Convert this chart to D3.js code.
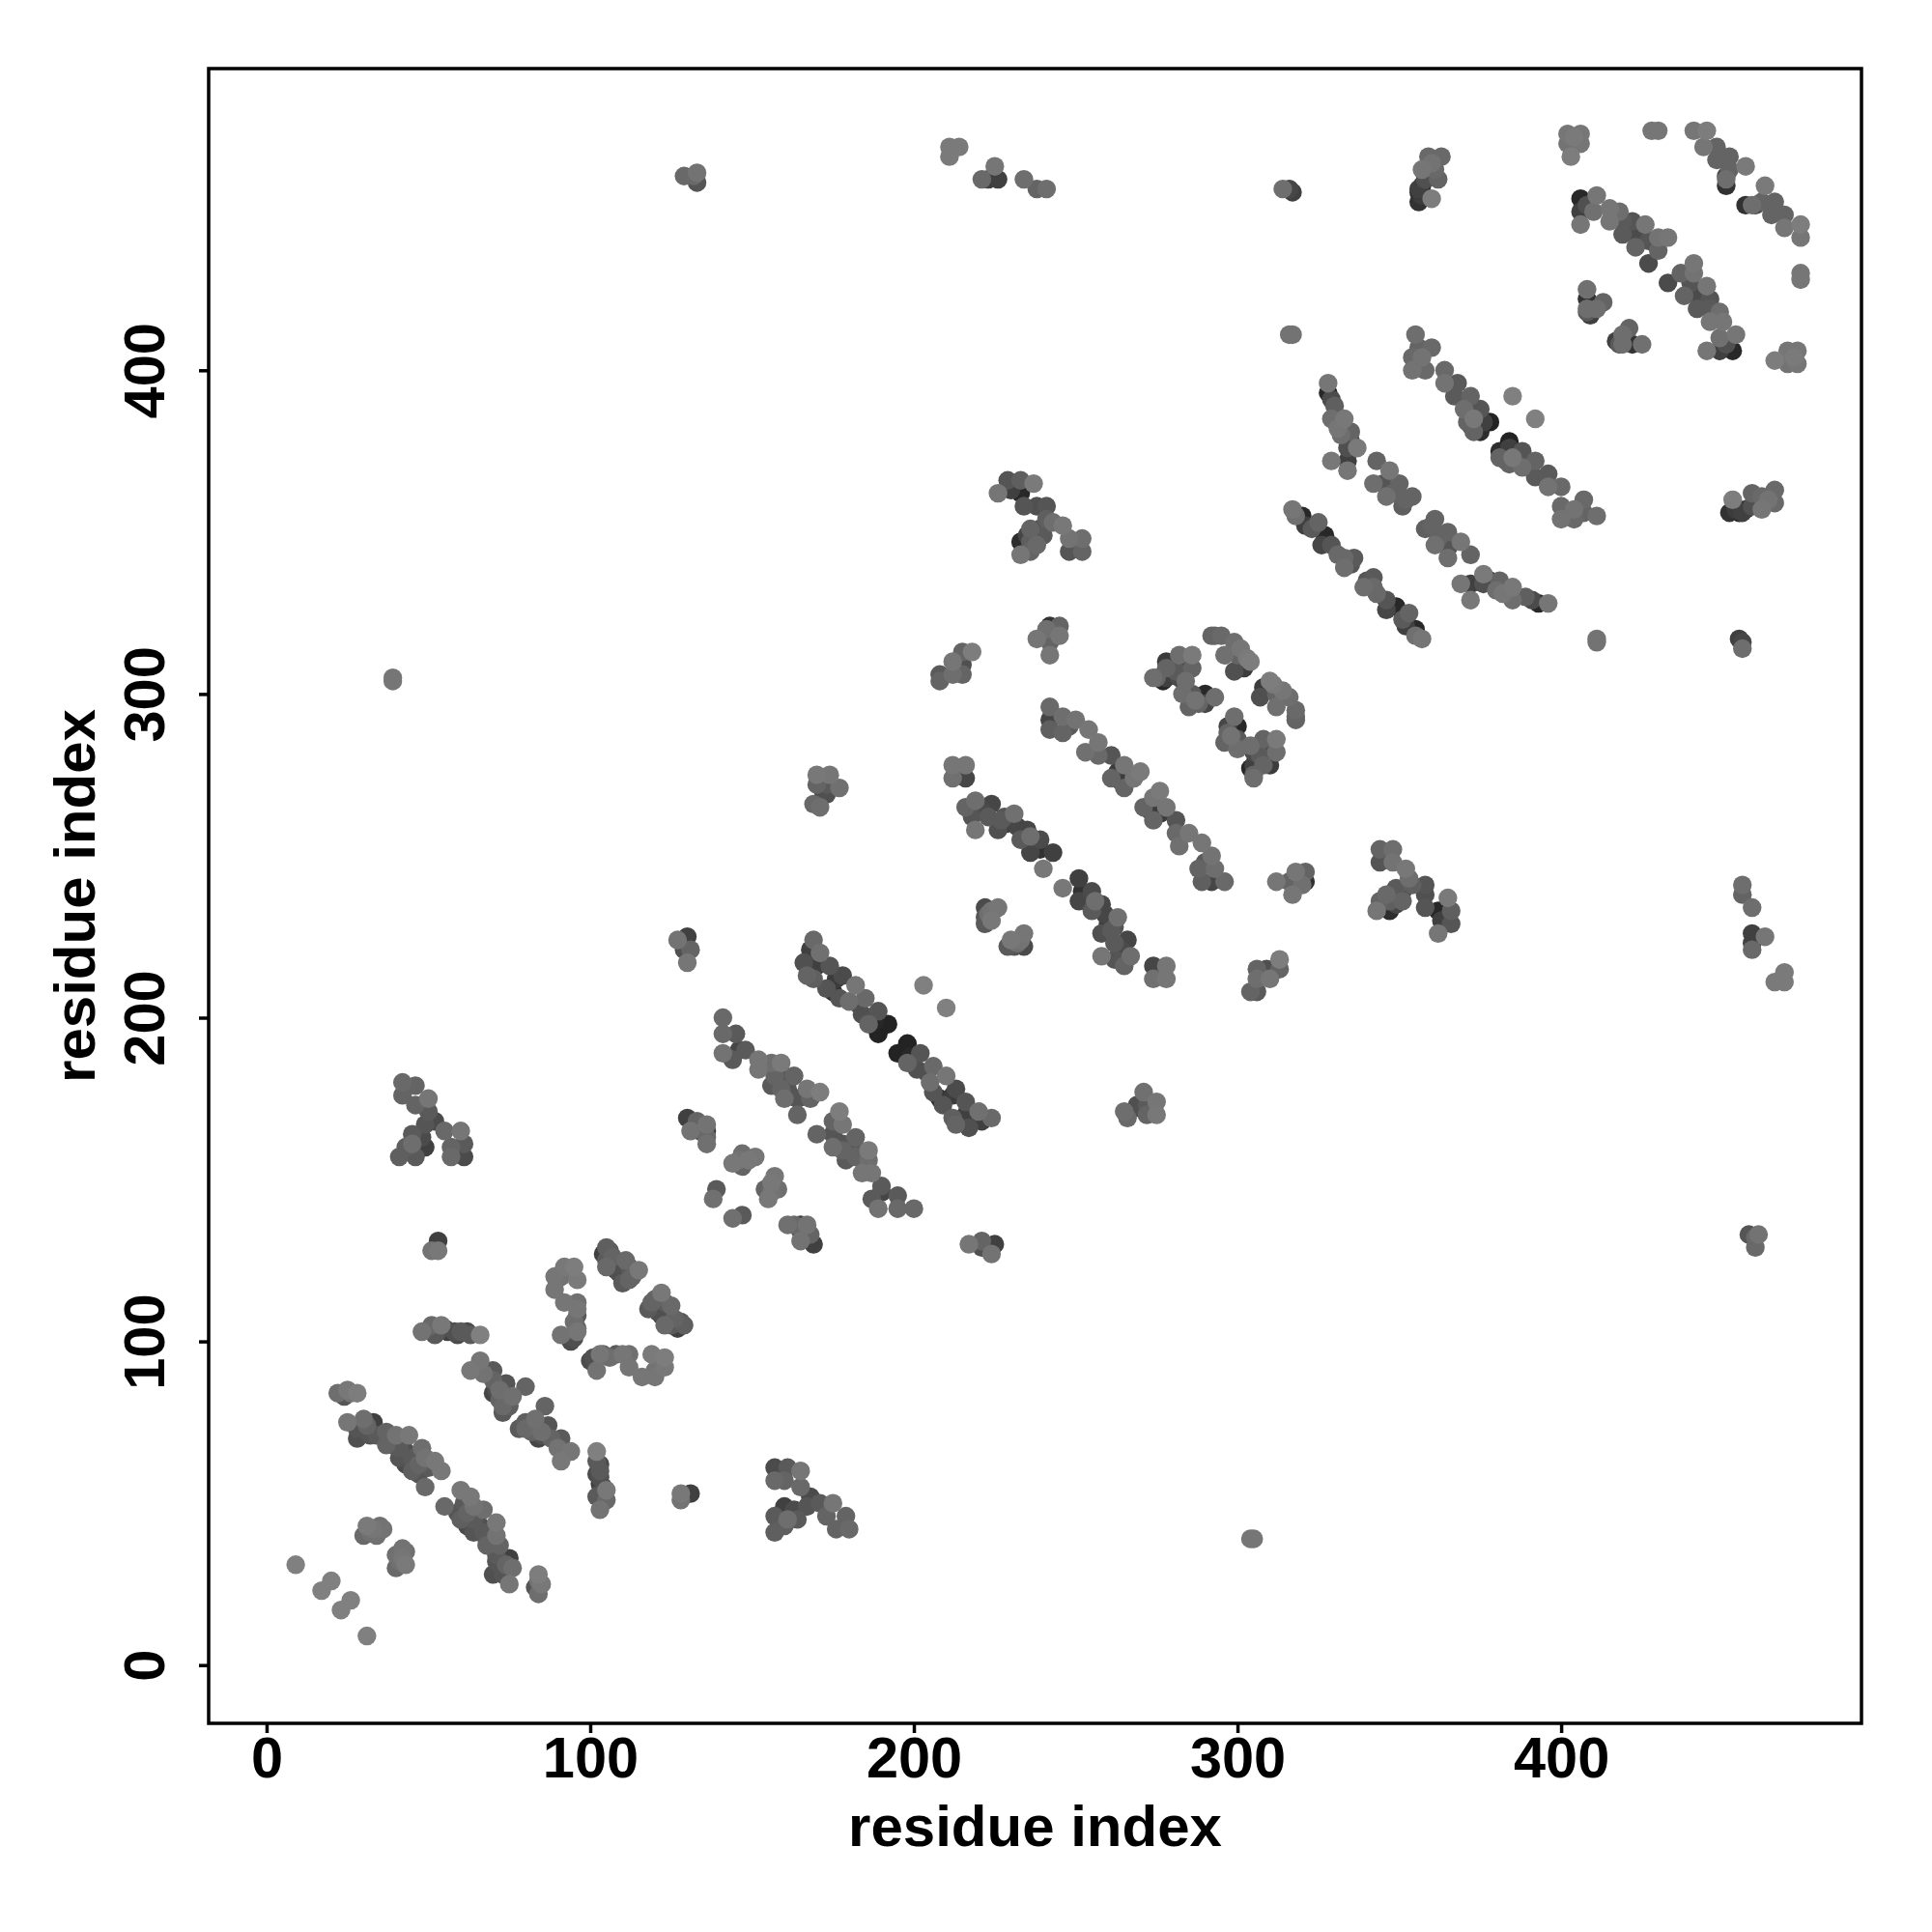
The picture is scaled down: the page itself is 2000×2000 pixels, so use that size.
<!DOCTYPE html>
<html><head><meta charset="utf-8">
<script src="https://cdn.jsdelivr.net/npm/d3@7"></script>
<style>html,body{margin:0;padding:0;background:#fff}svg{display:block}</style>
</head><body><div id="chart"></div>
<script>
// Contact list: [residue i, residue j, grey level]. A contact map is symmetric: each pair is shown at (i,j) and (j,i).
const hairpin1=[[9,31,128],[17,23,128],[20,26,128]];
const band25=[[25,75,118],[29,71,70],[28,73,85],[28,70,80],[32,71,85],[30,72,80],[30,76,110],[31,74,100],[33,75,64],[34,71,90],[37,72,100],[37,68,100],[39,68,75],[41,67,90],[40,71,115],[43,66,80],[41,64,85],[43,62,75],[44,71,120],[45,60,95],[45,64,90],[47,59,85],[46,63,80],[47,62,100],[50,61,90],[48,67,110],[49,64,115],[52,63,120],[54,60,120],[49,55,105]];
const band22=[[24,83,85],[22,84,110],[25,85,120],[26,84,115],[28,84,125]];
const band48=[[48,103,115],[51,105,105],[53,103,80],[54,105,120],[52,102,90],[55,104,70],[56,103,64],[58,103,80],[59,102,75],[60,103,90],[62,103,75],[63,102,90],[66,102,128]];
const band63=[[63,91,120],[66,94,118],[67,90,115],[70,91,90],[70,88,100],[71,85,80],[74,87,85],[70,84,70],[72,82,100],[73,80,105],[74,83,64],[76,83,112],[75,80,95],[80,86,100],[72,85,110],[73,78,90]];
const patch30=[[30,40,105],[32,41,112],[34,40,112],[31,43,122],[36,42,115],[33,42,118],[35,43,112]];
const patch51=[[51,128,115],[53,131,64],[53,128,120]];
const ring89=[[89,120,118],[89,116,118],[92,123,120],[91,120,115],[95,123,125],[96,119,122],[92,112,118],[96,112,112],[96,108,90],[96,104,100],[95,106,110],[96,110,118],[95,101,80],[94,100,75],[91,102,115],[96,103,118]];
const band104=[[105,129,95],[104,127,64],[105,125,90],[105,123,105],[106,128,90],[107,126,100],[108,122,64],[111,125,105],[109,121,80],[110,118,90],[112,123,90],[112,119,100],[113,120,100],[115,122,120]];
const patch138=[[138,144,112],[139,147,90]];
const patch144=[[146,155,64],[147,158,110],[151,157,118],[144,155,120],[147,154,100],[149,156,120],[146,156,115]];
const band141=[[141,200,105],[141,195,105],[145,195,90],[141,189,115],[144,187,90],[146,190,70],[148,190,90],[152,187,118],[152,184,118],[156,186,110],[159,186,122],[156,179,90],[157,182,100],[159,183,90],[163,182,100],[159,178,100],[160,175,110],[161,178,85],[164,175,85],[167,178,118],[168,175,100],[171,177,125],[164,170,100]];
const patch130=[[130,169,64],[131,165,115],[133,168,100],[136,167,115],[134,165,80],[136,163,105],[136,161,112],[136,165,60]];
const patch127=[[127,224,115],[130,225,64],[131,221,100],[130,217,118],[129,221,80]];
const patch222=[[222,234,75],[226,234,118],[224,230,120],[222,231,85],[224,233,115],[223,232,110],[222,229,90]];
const patch212=[[212,274,112],[212,278,118],[216,274,70],[216,278,118]];
const patch169=[[169,266,105],[171,265,110],[173,269,80],[177,271,112],[172,270,70],[170,272,100],[170,275,120],[174,275,118],[173,272,90]];
const band216=[[216,265,100],[219,267,110],[218,262,85],[221,264,75],[224,266,70],[219,258,118],[223,262,90],[228,262,85],[231,263,112],[226,258,80],[229,260,64],[227,261,90],[232,259,70],[235,258,70],[233,255,90],[236,256,110],[239,255,75],[236,251,70],[238,253,40],[239,252,50],[243,251,64],[240,246,120]];
const band242=[[242,296,105],[242,292,70],[246,293,110],[242,289,95],[250,292,115],[246,288,100],[254,289,118],[248,290,90],[253,282,112],[257,285,118],[257,281,105],[261,281,85],[265,278,118],[261,274,100],[263,276,60],[264,273,50],[270,276,122],[265,271,100],[268,274,118]];
const patch275=[[275,305,100],[274,305,110],[277,304,40],[278,308,100],[282,312,110],[286,312,122],[286,308,100],[282,305,75],[278,305,64],[280,306,50],[282,309,64],[278,310,60],[283,300,110],[286,300,90],[290,300,40],[293,299,110],[285,296,100],[290,297,70],[288,297,100],[287,298,115],[281,307,90],[284,304,110],[279,308,64]];
const patch292=[[292,318,100],[293,318,100],[295,318,105],[299,316,110],[296,312,112],[303,311,122],[302,308,60],[299,307,80],[304,310,125],[300,312,100],[301,314,118]];
const patch226=[[226,362,118],[229,366,85],[233,366,95],[237,365,122],[233,362,40],[230,363,64],[234,358,85],[238,358,80],[241,358,85],[241,354,95],[246,352,120],[243,353,110],[236,351,100],[239,351,75],[233,347,45],[236,347,95],[240,349,90],[233,343,118],[236,344,100],[252,348,110],[252,344,100],[248,348,115],[248,344,85],[235,349,70],[238,346,105]];
const patch208=[[218,313,125],[215,313,100],[212,310,118],[215,309,80],[215,306,100],[208,306,90],[208,304,100],[212,306,110]];
const patch238=[[245,321,100],[242,321,50],[241,320,112],[245,318,118],[238,317,118],[242,316,100],[242,312,118],[243,319,80]];
const band317=[[317,357,118],[318,355,112],[320,355,40],[321,352,64],[323,351,90],[325,353,100],[327,349,40],[326,346,70],[329,346,85],[331,343,105],[333,342,105],[336,342,90],[333,339,110],[335,340,85]];
const band342=[[343,372,100],[347,369,118],[342,365,110],[345,365,85],[350,365,100],[354,361,100],[346,361,112],[351,358,95],[348,362,100],[352,360,100]];
const band328=[[328,396,118],[328,393,40],[330,389,95],[329,391,75],[333,385,120],[329,385,110],[335,381,100],[332,380,110],[337,376,122],[334,376,80],[329,372,120],[334,372,64],[334,369,118],[331,382,118],[335,378,60]];
const band354=[[355,411,110],[356,407,100],[360,407,105],[354,404,105],[357,404,115],[354,400,115],[358,400,105],[364,400,105],[364,396,115],[368,396,90],[367,392,90],[372,392,100],[370,388,110],[375,388,85],[373,385,120],[371,384,100],[375,381,45],[376,384,64],[378,384,35],[373,381,100],[372,383,90]];
const single385=[[385,392,128]];
const single316=[[316,411,115],[317,411,115]];
const patch314=[[314,456,110],[316,456,70],[317,455,64]];
const patch356=[[356,452,50],[356,455,40],[356,456,64],[357,457,50],[357,454,60],[360,453,125],[357,462,118],[359,466,105],[363,466,105],[361,462,105],[362,459,100],[360,464,115],[358,459,80]];
const patch402=[[402,473,118],[406,473,118],[402,470,115],[406,470,118],[403,466,125],[404,472,122]];
const patch428=[[428,474,118],[430,474,118]];
const band441=[[441,474,118],[445,474,125],[444,469,118],[448,469,100],[448,465,100],[452,466,100],[452,462,100],[451,460,70],[451,457,50],[451,459,110],[457,463,122]];
const band406=[[406,453,40],[411,454,118],[406,449,64],[406,445,118],[410,449,112],[408,451,80],[415,450,118],[418,449,110],[419,446,90],[415,446,118],[422,446,85],[419,442,90],[426,445,118],[423,442,75],[423,438,100],[427,440,85],[430,441,115],[433,441,118],[430,437,100],[427,433,75]];
const patch408=[[408,425,112],[408,422,50],[413,421,100],[408,418,90],[411,419,110],[409,417,64],[408,419,110]];
const far129=[[129,460,105],[133,458,85],[133,461,115],[132,460,105]];
const far211=[[211,469,122],[214,469,122],[211,466,122]];
const far221=[[225,463,118],[221,459,105],[223,459,64],[226,459,64]];
const far234=[[234,459,110],[238,456,100],[241,456,110]];
const single203=[[203,210,128]];
const single39=[[39,305,118],[39,304,118]];
const patch41=[[42,180,105],[46,179,100],[42,176,100],[46,173,100],[50,175,118],[50,171,90],[52,168,75],[49,167,85],[45,164,90],[48,163,75],[55,165,105],[60,165,118],[49,160,64],[41,157,95],[46,157,90],[45,161,110],[43,160,95],[57,160,100],[61,161,90],[57,157,105],[61,157,75],[47,162,50]];
const band166=[[169,224,105],[171,220,112],[168,221,64],[166,217,80],[167,213,100],[170,216,64],[169,212,95],[174,216,85],[173,209,85],[178,213,75],[177,206,85],[176,212,60],[175,208,50],[182,210,118],[180,205,110],[185,206,105],[183,204,80],[184,201,80],[189,202,85],[186,198,100],[188,199,40],[189,195,35],[192,198,35]];

const contacts=[hairpin1,band25,band22,band48,band63,patch30,patch51,ring89,band104,patch138,patch144,band141,patch130,patch127,patch222,patch212,patch169,band216,band242,patch275,patch292,patch226,patch208,patch238,band317,band342,band328,band354,single385,single316,patch314,patch356,patch402,patch428,band441,band406,patch408,far129,far211,far221,far234,single203,single39,patch41,band166].flat();
const tickValues=[0,100,200,300,400];
const axisTitle="residue index";

const W=2000,H=2000,plotL=216,plotR=1927,plotT=71,plotB=1784;
const xScale=d3.scaleLinear().domain([-17.9,492.8]).range([plotL,plotR]);
const yScale=d3.scaleLinear().domain([-18,493.2]).range([plotB,plotT]);
const font='"Liberation Sans",Arial,sans-serif';

const svg=d3.select("#chart").append("svg").attr("width",W).attr("height",H);
svg.append("rect").attr("width",W).attr("height",H).attr("fill","#fff");

// Darker contacts go first, so lighter ones sit on top of them as in the reference.
const mirrored=contacts.flatMap(([i,j,g])=>[{x:i,y:j,g},{x:j,y:i,g}]).sort((a,b)=>d3.ascending(a.g,b.g));
svg.append("g").selectAll("circle").data(mirrored).join("circle")
  .attr("cx",d=>xScale(d.x)).attr("cy",d=>yScale(d.y)).attr("r",9.7)
  .attr("fill",d=>d3.rgb(d.g,d.g,d.g).formatHex());

svg.append("rect").attr("x",plotL).attr("y",plotT).attr("width",plotR-plotL).attr("height",plotB-plotT)
  .attr("fill","none").attr("stroke","#000").attr("stroke-width",3.5);

const gx=svg.append("g").attr("transform",`translate(0,${plotB})`)
  .call(d3.axisBottom(xScale).tickValues(tickValues).tickSize(10).tickPadding(0).tickFormat(d3.format("d")));
gx.select(".domain").remove();
gx.selectAll("line").attr("stroke","#000").attr("stroke-width",3.5);
gx.selectAll("text").attr("y",56).attr("dy",0).attr("font-family",font).attr("font-weight","bold").attr("font-size",59.5).attr("fill","#000");

const gy=svg.append("g").attr("transform",`translate(${plotL},0)`)
  .call(d3.axisLeft(yScale).tickValues(tickValues).tickSize(10).tickFormat(d3.format("d")));
gy.select(".domain").remove();
gy.selectAll("line").attr("stroke","#000").attr("stroke-width",3.5);
gy.selectAll("text").attr("x",0).attr("y",0).attr("dy",0)
  .attr("transform",`translate(${170-plotL},0) rotate(-90)`).attr("text-anchor","middle")
  .attr("font-family",font).attr("font-weight","bold").attr("font-size",59.5).attr("fill","#000");

svg.append("text").attr("x",(plotL+plotR)/2).attr("y",1911).attr("text-anchor","middle")
  .attr("font-family",font).attr("font-weight","bold").attr("font-size",60).text(axisTitle);
svg.append("text").attr("transform",`translate(98,${(plotT+plotB)/2}) rotate(-90)`).attr("text-anchor","middle")
  .attr("font-family",font).attr("font-weight","bold").attr("font-size",60).text(axisTitle);
</script></body></html>
